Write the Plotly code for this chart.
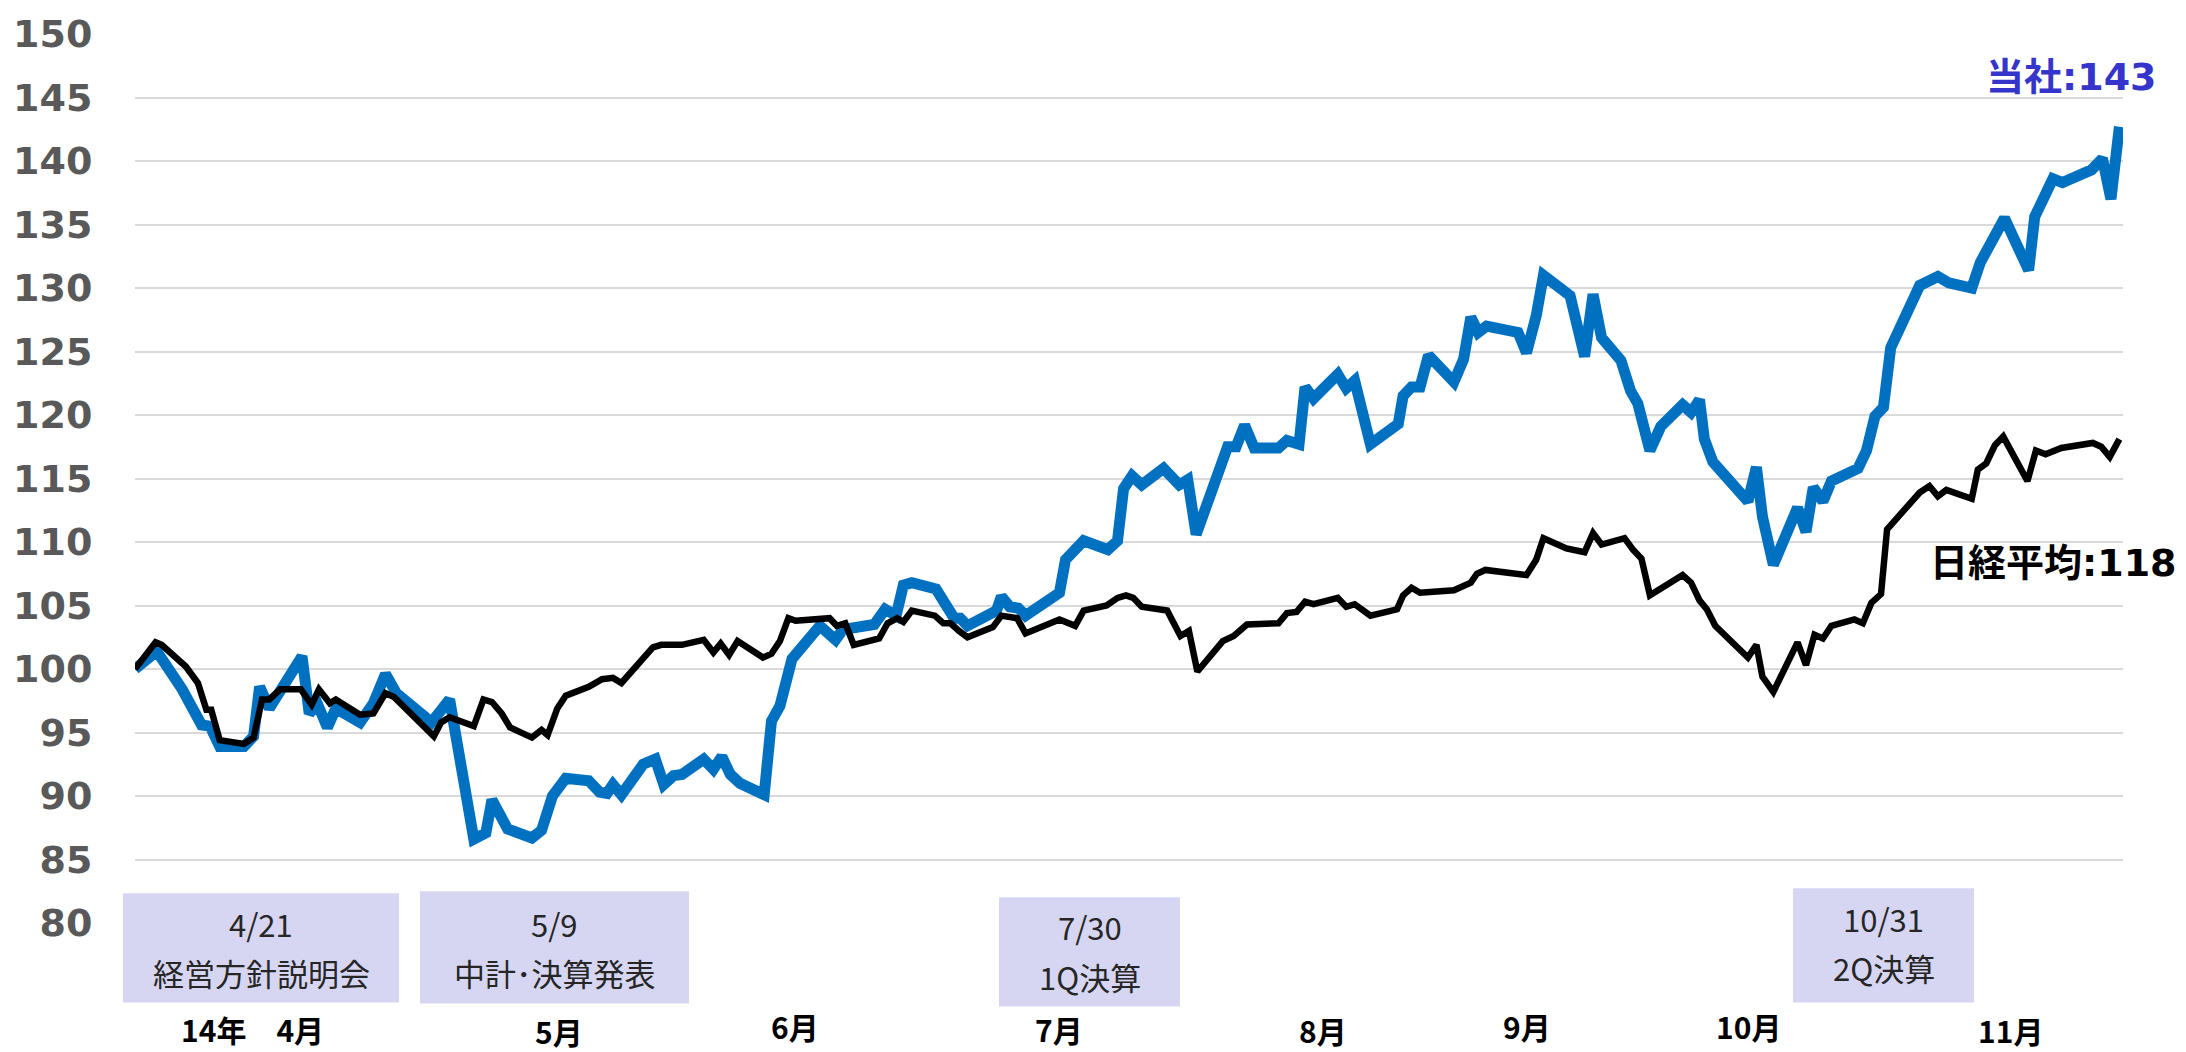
import plotly.graph_objects as go

# ---------------- data ----------------
# position in trading days (0 = start of April 2014) of each vertex, and index value
t_company = [0, 1.8, 3.9, 4.6, 5.5, 6.2, 7, 9, 9.8, 10.3, 11.1, 13.8, 14.4, 15.1, 15.9, 16.6,
             18.6, 19.7, 20.7, 21.6, 24.5, 26, 28, 29, 29.5, 30.8, 32.8, 33.6, 34.5, 35.6,
             37.5, 38.4, 39.0, 39.5, 40.2, 42, 43, 43.7, 44.5, 45.2, 47, 47.8, 48.5, 49.2,
             50.0, 52.0, 52.6, 53.3, 54.3, 56.6, 57.9, 58.5, 59.4, 61.1, 62.0, 62.9, 63.5,
             64.2, 66.2, 66.9, 67.7, 68.2, 68.8, 71.2, 71.6, 72.3, 73.0, 73.6, 76.4, 76.9,
             78.4, 80.4, 81.2, 81.7, 82.4, 83.2, 85.0, 86.3, 87.0, 87.7, 90.3, 91.0, 91.7,
             92.5, 94.5, 95.2, 96.2, 96.7, 97.4, 99.4, 100.1, 100.8, 102.1, 104.4, 104.8,
             105.5, 106.2, 106.9, 109, 109.8, 110.4, 111.0, 111.7, 114.3, 115.0, 115.8,
             116.4, 118.6, 119.8, 120.5, 121.2, 122.8, 123.6, 124.2, 125.2, 126.1, 127.9,
             128.6, 129.3, 129.7, 130.4, 133.3, 134.0, 134.5, 135.4, 137.4, 138.1, 138.7,
             139.5, 140.2, 142.4, 143.1, 143.8, 144.5, 145.1, 147.5, 149.0, 149.9, 151.8,
             152.5, 153.2, 154.5, 156.5, 157.0, 158.5, 159.3, 161.7, 162.6, 163.3, 164.0]
v_company = [100.0, 101.4, 98.4, 97.3, 95.6, 95.5, 93.9, 93.9, 94.7, 98.6, 96.9, 101.0, 96.5,
             97.2, 95.4, 96.9, 95.8, 97.3, 99.6, 98.1, 95.8, 97.6, 86.6, 87.1, 89.7, 87.4,
             86.7, 87.3, 90.0, 91.4, 91.2, 90.3, 90.2, 90.9, 90.1, 92.5, 92.9, 90.9, 91.6,
             91.7, 92.9, 92.1, 93.1, 91.7, 91.0, 90.1, 95.9, 97.1, 100.8, 103.4, 102.3,
             103.1, 103.2, 103.5, 104.7, 104.2, 106.6, 106.8, 106.3, 105.2, 104.0, 104.0,
             103.4, 104.6, 105.7, 104.9, 104.8, 104.2, 106.0, 108.6, 110.1, 109.4, 110.1,
             114.2, 115.2, 114.5, 115.8, 114.5, 114.9, 110.6, 117.5, 117.5, 119.2, 117.4,
             117.4, 118.0, 117.7, 122.2, 121.3, 123.2, 122.1, 122.7, 117.7, 119.3, 121.5,
             122.2, 122.2, 124.7, 122.6, 124.4, 127.7, 126.5, 127.0, 126.5, 124.9, 127.8,
             131.0, 129.4, 124.6, 129.5, 126.1, 124.3, 121.9, 120.9, 117.2, 119.1, 120.8,
             120.2, 121.2, 118.1, 116.3, 113.2, 115.9, 112.0, 108.2, 112.7, 110.8, 114.3,
             113.2, 114.8, 115.8, 117.2, 119.9, 120.6, 125.3, 130.2, 130.9, 130.4, 130.0,
             132.0, 133.2, 135.5, 131.4, 135.6, 138.6, 138.3, 139.3, 140.2, 137.0, 142.7]

t_nikkei = [0, 1.7, 2.2, 4.2, 5.2, 5.9, 6.3, 7, 9, 9.8, 10.5, 11.1, 12, 13.7, 14.6, 15.2, 16.1,
            16.6, 18.6, 19.7, 20.7, 21.4, 24.7, 25.3, 26, 28, 28.8, 29.5, 30.3, 31, 32.8,
            33.6, 34.1, 34.9, 35.6, 37.5, 38.6, 39.5, 40.2, 42.8, 43.5, 45.2, 47, 47.8, 48.4,
            49.1, 49.8, 51.9, 52.6, 53.3, 54, 54.6, 57.4, 58, 58.7, 59.4, 61.5, 62.2, 63,
            63.5, 64.2, 66.1, 66.8, 67.4, 68.1, 68.8, 70.9, 71.6, 72.9, 73.6, 76.4, 77.7,
            78.4, 80.3, 81.2, 81.9, 82.5, 83.2, 85.3, 86.4, 87.1, 87.8, 89.9, 90.8, 91.9,
            94.5, 95.2, 96.0, 96.7, 97.4, 99.4, 100.1, 100.8, 102.1, 104.3, 104.8, 105.5,
            106.2, 109, 110.4, 110.9, 111.6, 115.0, 115.8, 116.4, 118.3, 119.8, 120.5, 121.2,
            123.1, 123.8, 124.5, 125.2, 127.9, 128.6, 129.3, 129.9, 130.6, 133.3, 134.0,
            134.5, 135.4, 137.4, 138.1, 138.8, 139.5, 140.2, 142.1, 142.8, 143.5, 144.3,
            144.8, 147.5, 148.3, 149.0, 149.7, 151.8, 152.3, 153.0, 153.7, 154.4, 156.4,
            157.1, 157.9, 159.2, 161.8, 162.5, 163.2, 164.0]
v_nikkei = [100.0, 102.1, 101.9, 100.2, 98.9, 96.8, 96.8, 94.4, 94.1, 94.6, 97.6, 97.6, 98.4,
            98.4, 97.2, 98.4, 97.3, 97.6, 96.4, 96.5, 98.1, 97.8, 94.7, 95.8, 96.2, 95.5,
            97.6, 97.4, 96.5, 95.4, 94.6, 95.2, 94.8, 96.9, 97.9, 98.6, 99.2, 99.3, 98.9,
            101.7, 101.9, 101.9, 102.3, 101.3, 102.0, 101.1, 102.2, 100.9, 101.2, 102.2,
            104.0, 103.8, 104.0, 103.4, 103.6, 101.9, 102.4, 103.6, 104.0, 103.7, 104.6,
            104.2, 103.6, 103.6, 103.0, 102.5, 103.3, 104.2, 104.0, 102.8, 103.9, 103.4,
            104.6, 105.0, 105.6, 105.8, 105.6, 104.9, 104.6, 102.6, 103.0, 99.8, 102.2,
            102.6, 103.5, 103.6, 104.4, 104.5, 105.3, 105.1, 105.6, 104.9, 105.1, 104.2,
            104.7, 105.8, 106.4, 106.0, 106.2, 106.8, 107.5, 107.8, 107.4, 108.6, 110.3,
            109.5, 109.2, 110.7, 109.8, 110.3, 109.4, 108.7, 105.8, 107.4, 106.8, 105.4,
            104.7, 103.4, 100.9, 101.9, 99.4, 98.2, 102.1, 100.3, 102.7, 102.4, 103.4,
            103.9, 103.6, 105.2, 105.9, 111.0, 113.9, 114.4, 113.6, 114.1, 113.4, 115.7,
            116.2, 117.6, 118.3, 114.8, 117.2, 116.9, 117.4, 117.8, 117.5, 116.7, 118.1]

series_names = ["当社", "日経平均"]
y_ticks = list(range(80, 155, 5))
month_labels = ["14年\u30004月", "5月", "6月", "7月", "8月", "9月", "10月", "11月"]
event_dates = ["4/21", "5/9", "7/30", "10/31"]
event_names = ["経営方針説明会", "中計\uff65決算発表", "1Q決算", "2Q決算"]

# ---------------- layout geometry ----------------
W, H = 2186, 1052
L, R, T, B = 135, 63, 29, 129
PW, PH = W - L - R, H - T - B


def xp(px):
    return (px - L) / PW


def yp(py):
    return (H - B - py) / PH


fig = go.Figure()
fig.add_trace(go.Scatter(x=t_company, y=v_company, mode="lines", name=series_names[0],
                         line=dict(color="#0070C0", width=11), hoverinfo="skip"))
fig.add_trace(go.Scatter(x=t_nikkei, y=v_nikkei, mode="lines", name=series_names[1],
                         line=dict(color="#000000", width=6.5), hoverinfo="skip"))

annotations = []
shapes = []

# end labels
annotations.append(dict(x=t_company[-1], y=v_company[-1], xref="x", yref="y",
                        text=f"{series_names[0]}:{round(v_company[-1])}", showarrow=False,
                        xanchor="right", yanchor="middle", xshift=40, yshift=50,
                        font=dict(family="DejaVu Sans, Noto Sans CJK JP", size=38,
                                  color="#3535CC", weight="bold")))
annotations.append(dict(x=t_nikkei[-1], y=v_nikkei[-1], xref="x", yref="y",
                        text=f"{series_names[1]}:{round(v_nikkei[-1])}", showarrow=False,
                        xanchor="right", yanchor="middle", xshift=60, yshift=-124,
                        font=dict(family="DejaVu Sans, Noto Sans CJK JP", size=38,
                                  color="#000000", weight="bold")))

# event boxes (pixel rects) and their text lines
box_rects = [(123, 893, 399, 1003), (420, 891, 689, 1004), (999, 897, 1180, 1007),
             (1793, 888, 1974, 1003)]
box_line_y = [(923, 973), (923, 973), (927, 977), (918, 968)]
for (x0, y0, x1, y1), (ly1, ly2), d, n in zip(box_rects, box_line_y, event_dates, event_names):
    shapes.append(dict(type="rect", xref="paper", yref="paper", x0=xp(x0), x1=xp(x1),
                       y0=yp(y1), y1=yp(y0), fillcolor="#D6D6F3", line=dict(width=0),
                       layer="above"))
    cx = (x0 + x1) / 2
    for txt, ly in ((d, ly1), (n, ly2)):
        annotations.append(dict(x=xp(cx), y=yp(ly), xref="paper", yref="paper", text=txt,
                                showarrow=False, xanchor="center", yanchor="middle",
                                font=dict(family="Noto Sans CJK JP", size=31, color="#262626")))

# month labels
month_pos = [(252, 1030), (559, 1032), (795, 1027), (1059, 1030), (1323, 1031),
             (1527, 1027), (1748, 1027), (2010, 1031)]
for lab, (mx, my) in zip(month_labels, month_pos):
    annotations.append(dict(x=xp(mx), y=yp(my), xref="paper", yref="paper", text=lab,
                            showarrow=False, xanchor="center", yanchor="middle",
                            font=dict(family="Noto Sans CJK JP", size=30, color="#000000",
                                      weight="bold")))

fig.update_layout(
    width=W, height=H,
    margin=dict(l=L, r=R, t=T, b=B, pad=0),
    paper_bgcolor="white", plot_bgcolor="white",
    showlegend=False,
    annotations=annotations,
    shapes=shapes,
    xaxis=dict(range=[0, PW / 12.1], showgrid=False, zeroline=False, showticklabels=False,
               showline=False, ticks=""),
    yaxis=dict(range=[80, 150], tickvals=y_ticks, ticktext=[str(v) for v in y_ticks],
               showgrid=True, gridcolor="#D9D9D9", gridwidth=2, zeroline=False,
               showline=False, ticks="outside", ticklen=34, tickcolor="rgba(0,0,0,0)",
               tickfont=dict(family="DejaVu Sans", size=38, color="#595959", weight="bold")),
)

fig.write_html(
    "out.html",
    config={"displayModeBar": False},
    post_script=("document.body.style.margin='0';"
                 "document.body.style.overflow='hidden';"
                 "document.documentElement.style.overflow='hidden';"),
)
